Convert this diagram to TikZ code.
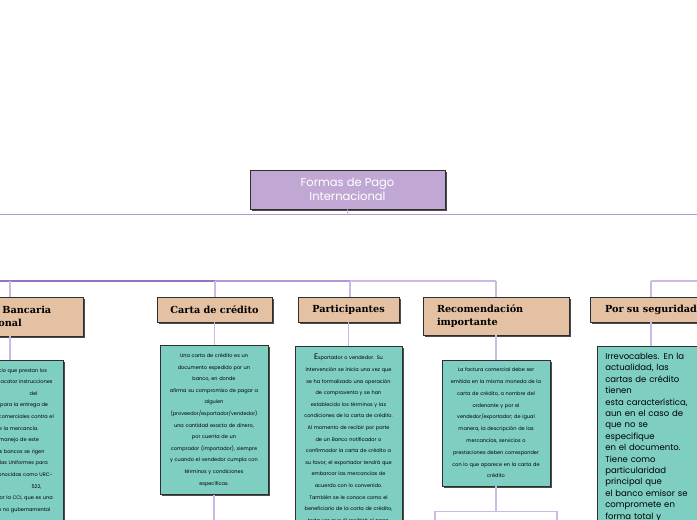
\documentclass[tikz,border=0pt]{standalone}
\usepackage{fontspec}
\setmainfont{Poppins}
\newfontfamily\headfont{DejaVu Serif}
\usetikzlibrary{shadows}
\definecolor{rootfill}{HTML}{C1A8D4}
\definecolor{headfill}{HTML}{E4C1A2}
\definecolor{tealfill}{HTML}{7ECEC2}
\definecolor{linkc}{HTML}{CDB9E6}
\definecolor{linkdark}{HTML}{9A70C3}
\definecolor{linkmid}{HTML}{B596D6}
\definecolor{edgec}{HTML}{2E2E2E}
\begin{document}
\begin{tikzpicture}[x=1pt,y=-1pt,
  boxbase/.style={draw=edgec, line width=0.6pt,
    drop shadow={shadow xshift=1.8pt, shadow yshift=-1.8pt, fill=black!70, opacity=1}, inner sep=0pt},
  rootbox/.style={boxbase, fill=rootfill, minimum width=195pt, minimum height=39pt,
    text=white, font=\fontsize{11.5}{13.5}\selectfont, align=center},
  headbox/.style={boxbase, fill=headfill, minimum height=25pt,
    font=\headfont\bfseries\fontsize{9.7}{13}\selectfont},
  tealbox/.style={boxbase, fill=tealfill, inner ysep=8pt,
    font=\fontsize{5}{11.6}\selectfont, align=center},
  bodytext/.style={inner xsep=0pt, inner ysep=8pt, font=\fontsize{5}{11.6}\selectfont, align=center},
  whitebox/.style={draw=linkc, line width=1.2pt, fill=white, minimum width=122pt, minimum height=60pt},
  link/.style={draw=linkc, line width=1.1pt},
  toplink/.style={draw=linkmid, line width=0.8pt}
]
\useasboundingbox (0,0) rectangle (697,520);
\clip (0,0) rectangle (697,520);

% root
\node[rootbox] (root) at (347.5,189.5) {Formas de Pago\\Internacional};

% bus coordinates
\coordinate (topL) at (0,214);
\coordinate (topR) at (697,214);
\coordinate (topM) at (348,214);
\coordinate (busL) at (0,281);
\coordinate (busA) at (215,281);
\coordinate (busB) at (350,281);
\coordinate (busC) at (496,281);
\coordinate (busD) at (651,281);
\coordinate (busR) at (697,281);

\draw[toplink] (topL) -- (topR);
\draw[toplink] (root.south) -- (topM);

% headings
\node[headbox, minimum width=140pt, text width=130pt, minimum height=39pt, align=left] (h1) at (13,316.5) {Cobranza Bancaria\\Internacional};
\node[headbox, minimum width=115pt] (h2) at (214.5,309.5) {Carta de crédito};
\node[headbox, minimum width=101pt] (h3) at (348.5,309.5) {Participantes};
\node[headbox, minimum width=146pt, minimum height=38pt, text width=118pt, align=left] (h4) at (496,316) {Recomendación\\importante};
\node[headbox, minimum width=122pt] (h5) at (651,309.5) {Por su seguridad};

% bus line
\draw[draw=linkdark, line width=1.1pt] (busL) -- (busA);
\draw[draw=linkmid, line width=1.1pt] (busA) -- (busB);
\draw[link] (busB) -- (busC);
\draw[link] (busD) -- (busR);
\draw[link] (h1.north -| 10,0) -- (10,281);
\draw[link] (h2.north -| busA) -- (busA);
\draw[link] (h3.north -| busB) -- (busB);
\draw[link] (h4.north) -- (busC);
\draw[link] (h5.north) -- (busD);

% content boxes
\node[tealbox, anchor=north, minimum width=107pt, minimum height=200pt] (c1) at (9.5,360) {};
\node[bodytext, anchor=north, text width=106pt] (t1) at (c1.north) {%
Es un servicio que prestan los\\
bancos para acatar instrucciones\\
\hspace*{48pt}del\\
exportador para la entrega de\\
documentos comerciales contra el\\
pago de la mercancía.\\
Para el manejo de este\\
servicio los bancos se rigen\\
por las Reglas Uniformes para\\
Cobranzas conocidas como URC-\\
\hspace*{54pt}522,\\
publicadas por la CCI, que es una\\
organización no gubernamental};

\node[tealbox, minimum width=108pt, minimum height=148pt, text width=106pt] (c2) at (214,420) {%
Una carta de crédito es un\\
documento expedido por un\\
banco, en donde\\
afirma su compromiso de pagar a\\
alguien\\
(proveedor/exportador/vendedor)\\
una cantidad exacta de dinero,\\
por cuenta de un\\
comprador (importador), siempre\\
y cuando el vendedor cumpla con\\
términos y condiciones\\
específicas.};

\node[tealbox, anchor=north, minimum width=107pt, text width=105pt] (c3) at (348.5,346) {%
{\fontsize{8}{8}\selectfont E}xportador o vendedor. Su\\
intervención se inicia una vez que\\
se ha formalizado una operación\\
de compraventa y se han\\
establecido los términos y las\\
condiciones de la carta de crédito.\\
Al momento de recibir por parte\\
de un Banco notificador o\\
confirmador la carta de crédito a\\
su favor, el exportador tendrá que\\
embarcar las mercancías de\\
acuerdo con lo convenido.\\
También se le conoce como el\\
beneficiario de la carta de crédito,\\
toda vez que él recibirá el pago};

\node[tealbox, minimum width=108pt, minimum height=126pt, text width=106pt,
  font=\fontsize{5}{11.8}\selectfont] (c4) at (496,423) {%
La factura comercial debe ser\\
emitida en la misma moneda de la\\
carta de crédito, a nombre del\\
ordenante y por el\\
vendedor/exportador; de igual\\
manera, la descripción de las\\
mercancías, servicios o\\
prestaciones deben corresponder\\
con lo que aparece en la carta de\\
crédito};

\node[tealbox, anchor=north west, inner xsep=8pt, inner ysep=7pt, text width=112pt, align=left,
  font=\fontsize{8.5}{11.4}\selectfont] (c5) at (597,346) {%
Irrevocables. En la\\
actualidad, las\\
cartas de crédito\\
tienen\\
esta característica,\\
aun en el caso de\\
que no se\\
especifique\\
en el documento.\\
Tiene como\\
particularidad\\
principal que\\
el banco emisor se\\
compromete en\\
forma total y};

\draw[link] (h1.south -| 10,0) -- (c1.north -| 10,0);
\draw[link] (h2.south) -- (c2.north -| h2.south);
\draw[link] (h3.south) -- (c3.north);
\draw[link] (h4.south) -- (c4.north);
\draw[link] (h5.south) -- (c5.north -| h5.south);

% lower white boxes
\node[whitebox, anchor=north] (w2) at (214,519.5) {};
\node[whitebox, anchor=north] (w4) at (496,510.5) {};
\draw[link] (c2.south) -- (w2.north);
\draw[link] (c4.south) -- (w4.north);
\end{tikzpicture}
\end{document}
